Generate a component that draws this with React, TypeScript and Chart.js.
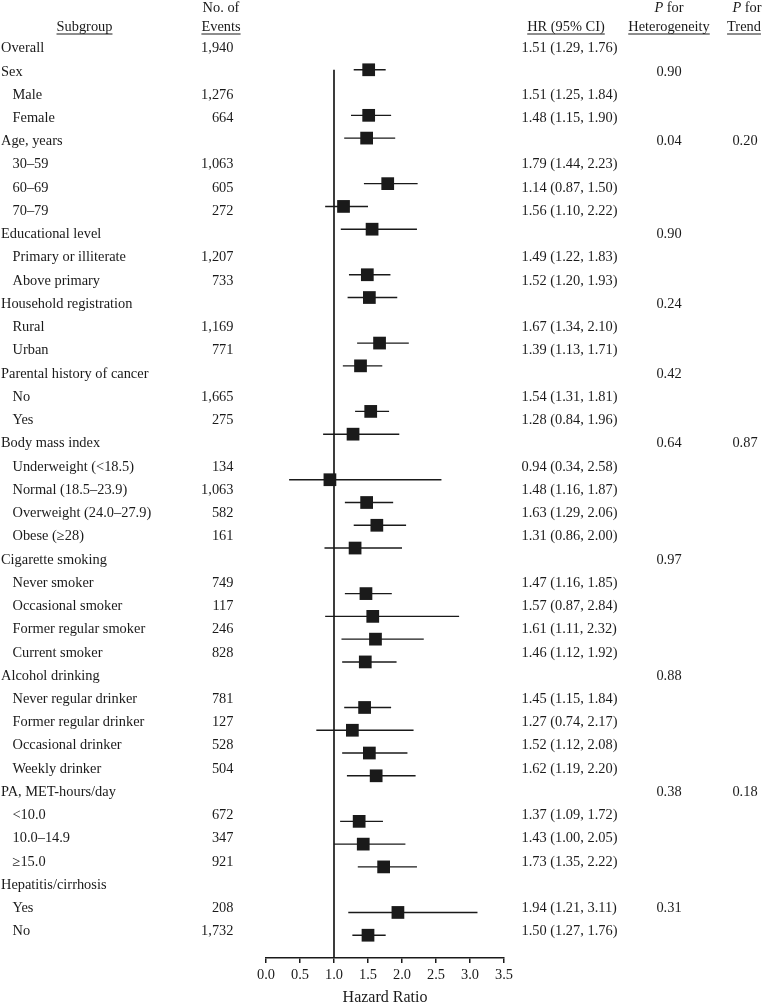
import React, { useEffect, useRef } from "react";
import { Chart, registerables } from "chart.js";

Chart.register(...registerables);

// ---- data ----
const ROW_LABELS = [
  "Overall", "Sex", "Male", "Female", "Age, years", "30–59", "60–69", "70–79",
  "Educational level", "Primary or illiterate", "Above primary",
  "Household registration", "Rural", "Urban",
  "Parental history of cancer", "No", "Yes",
  "Body mass index", "Underweight (<18.5)", "Normal (18.5–23.9)", "Overweight (24.0–27.9)", "Obese (≥28)",
  "Cigarette smoking", "Never smoker", "Occasional smoker", "Former regular smoker", "Current smoker",
  "Alcohol drinking", "Never regular drinker", "Former regular drinker", "Occasional drinker", "Weekly drinker",
  "PA, MET-hours/day", "<10.0", "10.0–14.9", "≥15.0",
  "Hepatitis/cirrhosis", "Yes", "No",
];
const ROW_INDENT = [0, 0, 1, 1, 0, 1, 1, 1, 0, 1, 1, 0, 1, 1, 0, 1, 1, 0, 1, 1, 1, 1, 0, 1, 1, 1, 1, 0, 1, 1, 1, 1, 0, 1, 1, 1, 0, 1, 1];
const EVENTS = [
  "1,940", "", "1,276", "664", "", "1,063", "605", "272", "", "1,207", "733", "", "1,169", "771",
  "", "1,665", "275", "", "134", "1,063", "582", "161", "", "749", "117", "246", "828",
  "", "781", "127", "528", "504", "", "672", "347", "921", "", "208", "1,732",
];
const HR = [
  1.51, null, 1.51, 1.48, null, 1.79, 1.14, 1.56, null, 1.49, 1.52, null, 1.67, 1.39,
  null, 1.54, 1.28, null, 0.94, 1.48, 1.63, 1.31, null, 1.47, 1.57, 1.61, 1.46,
  null, 1.45, 1.27, 1.52, 1.62, null, 1.37, 1.43, 1.73, null, 1.94, 1.50,
];
const CI_LOW = [
  1.29, null, 1.25, 1.15, null, 1.44, 0.87, 1.10, null, 1.22, 1.20, null, 1.34, 1.13,
  null, 1.31, 0.84, null, 0.34, 1.16, 1.29, 0.86, null, 1.16, 0.87, 1.11, 1.12,
  null, 1.15, 0.74, 1.12, 1.19, null, 1.09, 1.00, 1.35, null, 1.21, 1.27,
];
const CI_HIGH = [
  1.76, null, 1.84, 1.90, null, 2.23, 1.50, 2.22, null, 1.83, 1.93, null, 2.10, 1.71,
  null, 1.81, 1.96, null, 2.58, 1.87, 2.06, 2.00, null, 1.85, 2.84, 2.32, 1.92,
  null, 1.84, 2.17, 2.08, 2.20, null, 1.72, 2.05, 2.22, null, 3.11, 1.76,
];
const P_HET = [
  "", "0.90", "", "", "0.04", "", "", "", "0.90", "", "", "0.24", "", "",
  "0.42", "", "", "0.64", "", "", "", "", "0.97", "", "", "", "",
  "0.88", "", "", "", "", "0.38", "", "", "", "", "0.31", "",
];
const P_TREND = [
  "", "", "", "", "0.20", "", "", "", "", "", "", "", "", "",
  "", "", "", "0.87", "", "", "", "", "", "", "", "", "",
  "", "", "", "", "", "0.18", "", "", "", "", "", "",
];
const X_TICKS = [0, 0.5, 1, 1.5, 2, 2.5, 3, 3.5];
const REF_VALUE = 1;

// ---- styles ----
const FONT = '"Liberation Serif", "Times New Roman", serif';
const FS = 14.4;
const INK = "#1a1a1a";

const tablePlugin = {
  id: "forestTable",
  afterDraw(chart: any) {
    const ctx = chart.ctx;
    const yT = chart.scales.yText;
    ctx.save();
    ctx.fillStyle = INK;
    ctx.strokeStyle = INK;
    ctx.textBaseline = "middle";
    ctx.font = `${FS}px ${FONT}`;

    const text = (s: string, x: number, y: number, align: CanvasTextAlign, underline = false) => {
      ctx.textAlign = align;
      ctx.fillText(s, x, y);
      if (underline) {
        const w = ctx.measureText(s).width;
        const x0 = align === "center" ? x - w / 2 : align === "right" ? x - w : x;
        ctx.lineWidth = 1;
        ctx.beginPath();
        ctx.moveTo(x0, y + 6.5);
        ctx.lineTo(x0 + w, y + 6.5);
        ctx.stroke();
      }
    };
    const pFor = (cx: number, y: number) => {
      ctx.font = `italic ${FS}px ${FONT}`;
      const wp = ctx.measureText("P").width;
      ctx.font = `${FS}px ${FONT}`;
      const wf = ctx.measureText(" for").width;
      const x0 = cx - (wp + wf) / 2;
      ctx.textAlign = "left";
      ctx.font = `italic ${FS}px ${FONT}`;
      ctx.fillText("P", x0, y);
      ctx.font = `${FS}px ${FONT}`;
      ctx.fillText(" for", x0 + wp, y);
    };

    // headers
    const hy1 = 8.5;
    const hy2 = 27.5;
    text("Subgroup", 84.5, hy2, "center", true);
    text("No. of", 221, hy1, "center");
    text("Events", 221, hy2, "center", true);
    text("HR (95% CI)", 566, hy2, "center", true);
    pFor(669, hy1);
    text("Heterogeneity", 669, hy2, "center", true);
    pFor(747, hy1);
    text("Trend", 744, hy2, "center", true);

    ROW_LABELS.forEach((lab, i) => {
      const y = yT.getPixelForValue(i);
      text(lab, ROW_INDENT[i] ? 12.5 : 1, y, "left");
      if (EVENTS[i]) text(EVENTS[i], 233.5, y, "right");
      if (HR[i] != null) {
        const s = `${(HR[i] as number).toFixed(2)} (${(CI_LOW[i] as number).toFixed(2)}, ${(CI_HIGH[i] as number).toFixed(2)})`;
        text(s, 521.5, y, "left");
      }
      if (P_HET[i]) text(P_HET[i], 669, y, "center");
      if (P_TREND[i]) text(P_TREND[i], 745, y, "center");
    });
    ctx.restore();
  },
};

export default function App() {
  const ref = useRef<HTMLCanvasElement | null>(null);

  useEffect(() => {
    if (!ref.current) return;
    const points: any[] = [];
    const whiskers: any[] = [];
    HR.forEach((v, i) => {
      if (v == null) return;
      points.push({ x: v, y: i });
      whiskers.push({
        type: "line",
        data: [
          { x: CI_LOW[i], y: i },
          { x: CI_HIGH[i], y: i },
        ],
        borderColor: INK,
        borderWidth: 1.4,
        pointRadius: 0,
        showLine: true,
        yAxisID: "y",
      });
    });

    const chart = new Chart(ref.current, {
      type: "scatter",
      data: {
        datasets: [
          {
            type: "scatter",
            data: points,
            pointStyle: "rect",
            pointRadius: 9,
            pointBorderWidth: 0,
            backgroundColor: INK,
            borderColor: INK,
            yAxisID: "y",
          } as any,
          {
            type: "line",
            data: [
              { x: REF_VALUE, y: 0 },
              { x: REF_VALUE, y: 39 },
            ],
            borderColor: INK,
            borderWidth: 1.7,
            pointRadius: 0,
            yAxisID: "y",
          } as any,
          ...whiskers,
        ],
      },
      options: {
        responsive: false,
        animation: false,
        devicePixelRatio: 1,
        layout: { padding: { top: 47, left: 266, right: 264, bottom: 0 } },
        plugins: { legend: { display: false }, tooltip: { enabled: false } },
        scales: {
          x: {
            type: "linear",
            position: "bottom",
            min: X_TICKS[0],
            max: X_TICKS[X_TICKS.length - 1],
            afterBuildTicks: (s: any) => {
              s.ticks = X_TICKS.map((v) => ({ value: v }));
            },
            afterFit: (s: any) => {
              s.height = 49;
            },
            ticks: {
              callback: (v: any) => Number(v).toFixed(1),
              color: INK,
              font: { family: FONT, size: FS },
              padding: 4,
              maxRotation: 0,
              autoSkip: false,
            },
            grid: {
              display: true,
              drawOnChartArea: false,
              drawTicks: true,
              tickLength: 5,
              color: INK,
              lineWidth: 1.5,
            },
            border: { display: true, color: INK, width: 1.5 },
            title: {
              display: true,
              text: "Hazard Ratio",
              color: INK,
              font: { family: FONT, size: 16 },
              padding: { top: 0, bottom: 0 },
            },
          },
          y: {
            type: "linear",
            min: -1,
            max: 39,
            reverse: true,
            display: false,
          },
          yText: {
            type: "linear",
            min: -0.065,
            max: 39.135,
            reverse: true,
            display: false,
          },
        },
      } as any,
      plugins: [tablePlugin],
    });
    return () => chart.destroy();
  }, []);

  return (
    <div style={{ position: "absolute", left: 0, top: 0, width: 768, height: 1007, background: "#fff" }}>
      <canvas ref={ref} width={768} height={1007} style={{ display: "block", width: 768, height: 1007 }} />
    </div>
  );
}
